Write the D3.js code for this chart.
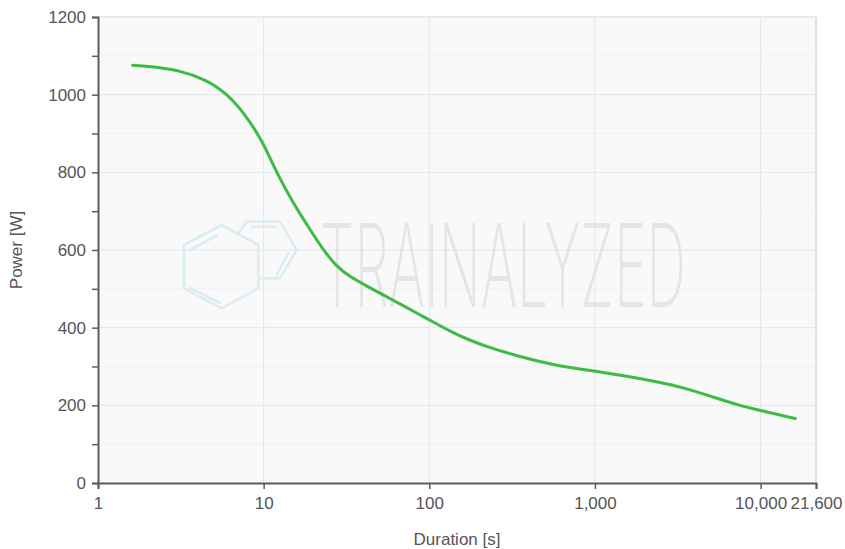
<!DOCTYPE html>
<html><head><meta charset="utf-8">
<script src="https://cdn.jsdelivr.net/npm/d3@7"></script>
<style>
html,body{margin:0;padding:0;background:#fff;}
svg{display:block;font-family:"Liberation Sans",Arial,sans-serif;}
</style></head>
<body>
<svg id="chart" width="845" height="549"></svg>
<script>
// Data: power-duration curve
const durations = [1.62, 2.16, 3.13, 4.43, 5.99, 7.91, 8.87, 9.96, 12.0, 15.1, 19.1, 22.9, 27.6, 33.2, 42.9, 52.8, 69.5, 88, 101, 140, 168, 222, 353, 561, 893, 1419, 2365, 3420, 5200, 7530, 9950, 16200];
const powers    = [1076, 1072, 1062, 1040, 1004, 943, 909, 875, 798, 720, 652, 600, 557, 531, 505, 484, 457, 433, 419, 386, 371, 351, 325, 304, 291, 278, 261, 246, 221, 199, 187, 166];
const xTicks = [1, 10, 100, 1000, 10000, 21600];
const xTickLabels = ["1", "10", "100", "1,000", "10,000", "21,600"];
const yTicks = [0, 200, 400, 600, 800, 1000, 1200];
const yMinorTicks = [100, 300, 500, 700, 900, 1100];
const xLabel = "Duration [s]";
const yLabel = "Power [W]";
const watermark = "TRAINALYZED";

const svg = d3.select("#chart");
const m = {left: 98, right: 816, top: 17, bottom: 483};
const x = d3.scaleLog().domain([1, 21600]).range([m.left, m.right]);
const y = d3.scaleLinear().domain([0, 1200]).range([m.bottom, m.top]);

// plot background
svg.append("rect").attr("x", m.left).attr("y", m.top)
  .attr("width", m.right - m.left).attr("height", m.bottom - m.top)
  .attr("fill", "#f9f9fa");

// minor horizontal grid
svg.append("g").selectAll("line").data(yMinorTicks).join("line")
  .attr("x1", m.left).attr("x2", m.right)
  .attr("y1", d => y(d)).attr("y2", d => y(d))
  .attr("stroke", "#edf1f8").attr("stroke-width", 1);
// major horizontal grid
svg.append("g").selectAll("line").data(yTicks.filter(d => d > 0)).join("line")
  .attr("x1", m.left).attr("x2", m.right)
  .attr("y1", d => y(d)).attr("y2", d => y(d))
  .attr("stroke", "#dfe5f0").attr("stroke-width", 1);
// vertical grid
svg.append("g").selectAll("line").data(xTicks.slice(1, -1)).join("line")
  .attr("x1", d => x(d)).attr("x2", d => x(d))
  .attr("y1", m.top).attr("y2", m.bottom)
  .attr("stroke", "#e4e6ea").attr("stroke-width", 1);
// right border
svg.append("line").attr("x1", m.right).attr("x2", m.right)
  .attr("y1", m.top).attr("y2", m.bottom)
  .attr("stroke", "#e0e0e4").attr("stroke-width", 2);

// watermark logo
const logo = svg.append("g").attr("fill", "none").attr("stroke", "#dcedf2")
  .attr("stroke-width", 2.6).attr("stroke-linejoin", "round").attr("stroke-linecap", "round");
logo.append("path").attr("d", "M221.7,225 L258.3,245 L258.3,288.3 L221.7,308.3 L184,288.3 L184,245 Z");
logo.append("path").attr("d", "M238,234 L246.7,221.7 L280,221.7 L296.7,250 L280,278.3 L258.3,278.3");
logo.append("path").attr("d", "M190,250 L217,235 M190,288 L220,303 M251.7,226.7 L275,226.7 M288.3,253.3 L276.7,275");
// watermark text (scaled horizontally to a condensed look)
const wm = svg.append("text").text(watermark)
  .attr("x", 0).attr("y", 0)
  .attr("font-family", "Inter, 'DejaVu Sans Condensed', sans-serif")
  .attr("font-weight", 200).attr("font-size", 116)
  .attr("fill", "#e5e5e6");
const natW = wm.node().getComputedTextLength() || 700;
wm.attr("transform", `translate(320,307) scale(${366 / natW},1)`);

// line
const line = d3.line().x((d, i) => x(durations[i])).y(d => y(d)).curve(d3.curveBasis);
svg.append("path").datum(powers).attr("d", line)
  .attr("fill", "none").attr("stroke", "#3dbb44").attr("stroke-width", 3)
  .attr("stroke-linejoin", "round").attr("stroke-linecap", "round");

// top border line
svg.append("line").attr("x1", m.left).attr("x2", m.right)
  .attr("y1", m.top).attr("y2", m.top)
  .attr("stroke", "#e3e6ee").attr("stroke-width", 1.5);

// y axis
svg.append("g").attr("transform", `translate(${m.left},0)`)
  .call(d3.axisLeft(y).tickValues(yTicks).tickSize(6).tickPadding(6).tickFormat(d3.format("d")));
svg.append("g").attr("transform", `translate(${m.left},0)`)
  .call(d3.axisLeft(y).tickValues(yMinorTicks).tickSize(6).tickFormat(""))
  .select(".domain").remove();
// x axis
svg.append("g").attr("transform", `translate(0,${m.bottom})`)
  .call(d3.axisBottom(x).tickValues(xTicks).tickSize(6).tickPadding(8)
    .tickFormat((d, i) => xTickLabels[i]));

svg.selectAll(".domain").attr("stroke", "#5c5c5c").attr("stroke-width", 2);
svg.selectAll(".tick line").attr("stroke", "#5c5c5c").attr("stroke-width", 1.5);
svg.selectAll(".tick text").attr("fill", "#555").attr("font-size", 17)
  .attr("font-family", "'Liberation Sans', Arial, sans-serif");

// axis labels
svg.append("text").text(xLabel).attr("x", 457).attr("y", 545)
  .attr("text-anchor", "middle").attr("fill", "#555").attr("font-size", 17);
svg.append("text").text(yLabel)
  .attr("transform", "translate(22,250) rotate(-90)")
  .attr("text-anchor", "middle").attr("fill", "#555").attr("font-size", 17);
</script>
</body></html>
